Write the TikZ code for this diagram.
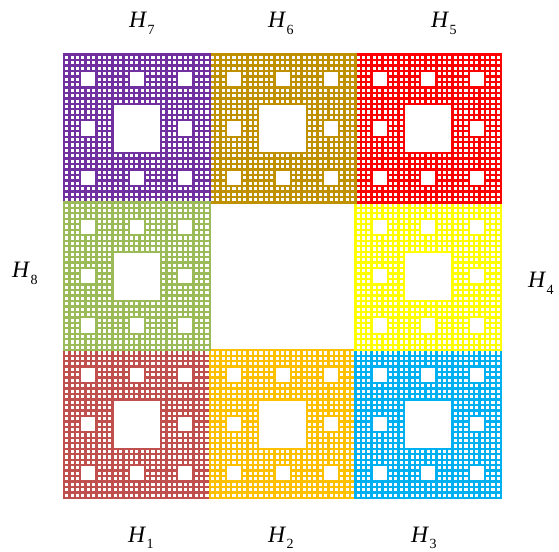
\documentclass[tikz,border=0pt]{standalone}
\usepackage{fontspec}
\setmainfont{Liberation Serif}
\definecolor{hA}{HTML}{C0504D}
\definecolor{hB}{HTML}{FFC000}
\definecolor{hC}{HTML}{00B0F0}
\definecolor{hD}{HTML}{FFFF00}
\definecolor{hE}{HTML}{FF0000}
\definecolor{hF}{HTML}{BF9000}
\definecolor{hG}{HTML}{7030A0}
\definecolor{hH}{HTML}{9BBB59}
\newcommand{\hlab}[1]{\textit{H}\kern0.5pt\raisebox{-6.5pt}{\fontsize{14}{14}\selectfont #1}}
\begin{document}
\begin{tikzpicture}[x=1pt,y=1pt,
  gridline/.style={line width=2.3pt, line cap=rect},
  hole/.style={fill=white},
  lab/.style={anchor=base west, inner sep=0pt, font=\fontsize{23.5}{25}\selectfont}]
\useasboundingbox (0,0) rectangle (559,551);
\foreach \i/\r/\c in {0/0/hA,1/0/hB,2/0/hC,2/1/hD,2/2/hE,1/2/hF,0/2/hG,0/1/hH}{
  \begin{scope}[shift={(64pt+145.7pt*\i,53pt+147.8pt*\r)}, x=5.3963pt, y=5.4741pt]
    \foreach \k in {0,...,27}{
      \draw[gridline, draw=\c] (\k,0) -- (\k,27);
      \draw[gridline, draw=\c] (0,\k) -- (27,\k);
    }
    \fill[hole] (9.2,9.2) rectangle (17.8,17.8);
    \foreach \a/\b in {0/0,1/0,2/0,0/1,2/1,0/2,1/2,2/2}{
      \fill[hole] (9*\a+3.2,9*\b+3.2) rectangle (9*\a+5.8,9*\b+5.8);
    }
  \end{scope}
}
\node[lab] (h7) at (129,523) {\hlab{7}};
\node[lab] (h6) at (268,523) {\hlab{6}};
\node[lab] (h5) at (431,523) {\hlab{5}};
\node[lab] (h8) at (12,273) {\hlab{8}};
\node[lab] (h4) at (528,263) {\hlab{4}};
\node[lab] (h1) at (128,9) {\hlab{1}};
\node[lab] (h2) at (268,9) {\hlab{2}};
\node[lab] (h3) at (411,9) {\hlab{3}};
\end{tikzpicture}
\end{document}
